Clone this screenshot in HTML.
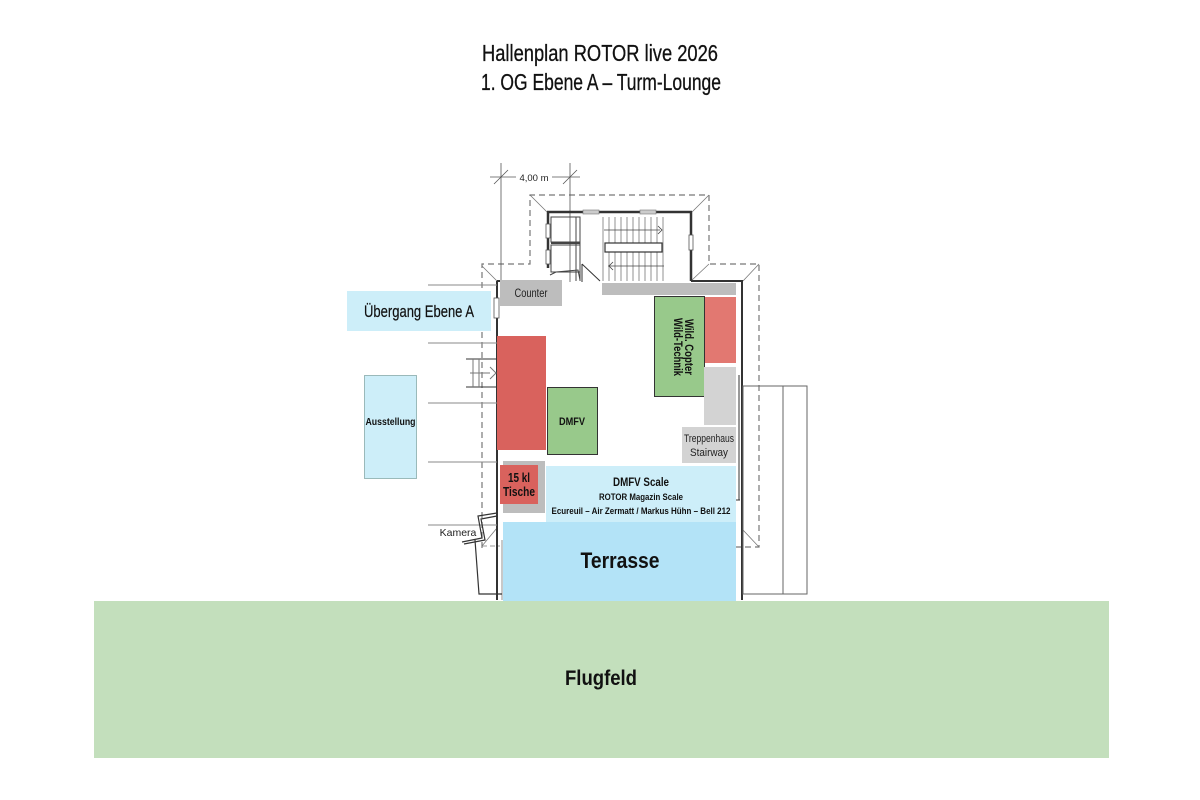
<!DOCTYPE html>
<html>
<head>
<meta charset="utf-8">
<style>
html,body{margin:0;padding:0;background:#fff;}
svg{display:block;}
text{font-family:"Liberation Sans",sans-serif;}
</style>
</head>
<body>
<svg width="1200" height="800" viewBox="0 0 1200 800" xmlns="http://www.w3.org/2000/svg">
<!-- Title -->
<text x="600" y="61" font-size="23" text-anchor="middle" textLength="236" lengthAdjust="spacingAndGlyphs" fill="#111" stroke="#111" stroke-width="0.3">Hallenplan ROTOR live 2026</text>
<text x="601" y="90" font-size="23" text-anchor="middle" textLength="240" lengthAdjust="spacingAndGlyphs" fill="#111" stroke="#111" stroke-width="0.3">1. OG Ebene A – Turm-Lounge</text>

<!-- Flugfeld -->
<rect x="94" y="601" width="1015" height="157" fill="#c3dfbc"/>
<text x="601" y="685" font-size="21" font-weight="bold" text-anchor="middle" textLength="72" lengthAdjust="spacingAndGlyphs" fill="#111">Flugfeld</text>

<!-- dashed outline -->
<g fill="none" stroke="#777" stroke-width="1.2" stroke-dasharray="6,4">
  <path d="M482,548 L482,264 L530,264 L530,195 L709,195 L709,264 L759,264 L759,547 L736,547"/>
</g>
<g stroke="#777" stroke-width="0.8" fill="none">
  <line x1="530" y1="195" x2="547" y2="212"/>
  <line x1="709" y1="195" x2="692" y2="212"/>
  <line x1="709" y1="264" x2="692" y2="280"/>
  <line x1="759" y1="264" x2="743" y2="281"/>
  <line x1="482" y1="266" x2="497" y2="281"/>
  <line x1="743" y1="530" x2="759" y2="547"/>
  <line x1="497" y1="528" x2="482" y2="546"/>
  <line x1="482" y1="546" x2="500" y2="546" stroke-dasharray="5,3"/>
</g>

<!-- dimension -->
<g stroke="#555" stroke-width="0.8">
  <line x1="501" y1="163" x2="501" y2="282"/>
  <line x1="570" y1="163" x2="570" y2="282"/>
  <line x1="490" y1="177" x2="516" y2="177"/>
  <line x1="552" y1="177" x2="580" y2="177"/>
  <line x1="494" y1="184" x2="508" y2="170"/>
  <line x1="563" y1="184" x2="577" y2="170"/>
</g>
<text x="534" y="181" font-size="9.5" text-anchor="middle" fill="#222">4,00 m</text>

<!-- tower walls -->
<g fill="none" stroke="#333" stroke-width="2.5">
  <line x1="547" y1="212" x2="583" y2="212"/>
  <line x1="599" y1="212" x2="640" y2="212"/>
  <line x1="656" y1="212" x2="692" y2="212"/>
  <line x1="548" y1="212" x2="548" y2="268"/>
  <line x1="691" y1="212" x2="691" y2="281"/>
</g>
<rect x="583" y="210" width="16" height="4" fill="#ccc" stroke="#777" stroke-width="0.6"/>
<rect x="640" y="210" width="16" height="4" fill="#ccc" stroke="#777" stroke-width="0.6"/>
<rect x="689" y="235" width="4" height="15" fill="#fff" stroke="#555" stroke-width="0.8"/>
<rect x="546" y="224" width="4" height="14" fill="#fff" stroke="#555" stroke-width="0.8"/>
<rect x="546" y="250" width="4" height="14" fill="#fff" stroke="#555" stroke-width="0.8"/>
<!-- tower small rooms -->
<g fill="none" stroke="#444" stroke-width="1">
  <rect x="551" y="217" width="29" height="25"/>
  <rect x="551" y="245" width="29" height="27"/>
  <line x1="551" y1="243" x2="580" y2="243" stroke-width="2"/>
  <path d="M550,275 L556,272 L578,270 L580,280"/>
  <line x1="576" y1="217" x2="576" y2="281"/>
  <line x1="580" y1="217" x2="580" y2="281"/>
</g>
<!-- door -->
<line x1="582" y1="264" x2="600" y2="281" stroke="#333" stroke-width="1"/>
<line x1="582" y1="264" x2="582" y2="282" stroke="#333" stroke-width="1"/>
<!-- stairs -->
<g stroke="#777" stroke-width="0.8">
  <line x1="603" y1="217" x2="603" y2="281"/>
  <line x1="609" y1="217" x2="609" y2="281"/>
  <line x1="615" y1="217" x2="615" y2="281"/>
  <line x1="621" y1="217" x2="621" y2="281"/>
  <line x1="627" y1="217" x2="627" y2="281"/>
  <line x1="633" y1="217" x2="633" y2="281"/>
  <line x1="639" y1="217" x2="639" y2="281"/>
  <line x1="645" y1="217" x2="645" y2="281"/>
  <line x1="651" y1="217" x2="651" y2="281"/>
  <line x1="657" y1="217" x2="657" y2="281"/>
  <line x1="663" y1="217" x2="663" y2="281"/>
  <line x1="604" y1="230" x2="660" y2="230" stroke="#444"/>
  <line x1="608" y1="266" x2="664" y2="266" stroke="#444"/>
</g>
<path d="M658,226 L662,230 L658,234" fill="none" stroke="#444" stroke-width="0.8"/>
<path d="M613,262 L609,266 L613,270" fill="none" stroke="#444" stroke-width="0.8"/>
<rect x="605" y="243" width="57" height="9" fill="#fff" stroke="#333" stroke-width="1.2"/>

<!-- main building walls -->
<g fill="none" stroke="#333" stroke-width="2">
  <line x1="497" y1="281" x2="497" y2="600"/>
  <line x1="497" y1="281" x2="548" y2="281"/>
  <line x1="691" y1="281" x2="743" y2="281"/>
  <line x1="742" y1="281" x2="742" y2="600"/>
</g>
<line x1="739" y1="375" x2="739" y2="500" stroke="#333" stroke-width="1"/>
<line x1="736" y1="500" x2="740" y2="500" stroke="#333" stroke-width="1"/>
<line x1="502" y1="540" x2="502" y2="600" stroke="#777" stroke-width="0.8"/>
<rect x="494" y="298" width="5" height="20" fill="#fff" stroke="#555" stroke-width="0.8"/>

<!-- right annex -->
<g fill="none" stroke="#666" stroke-width="1">
  <rect x="743" y="386" width="64" height="208"/>
  <line x1="783" y1="386" x2="783" y2="594"/>
</g>

<!-- left horizontal lines -->
<g stroke="#888" stroke-width="1">
  <line x1="428" y1="285" x2="497" y2="285"/>
  <line x1="428" y1="343" x2="497" y2="343"/>
  <line x1="428" y1="403" x2="497" y2="403"/>
  <line x1="428" y1="462" x2="497" y2="462"/>
  <line x1="428" y1="525" x2="497" y2="525"/>
</g>
<!-- left stair -->
<g stroke="#333" stroke-width="1" fill="none">
  <line x1="466" y1="359" x2="497" y2="359"/>
  <line x1="466" y1="387" x2="497" y2="387"/>
  <line x1="473" y1="359" x2="473" y2="387" stroke="#777"/>
  <line x1="479" y1="359" x2="479" y2="387" stroke="#777"/>
  <line x1="470" y1="373" x2="490" y2="373" stroke="#777"/>
  <path d="M490,367 L496,373 L490,379" stroke="#777"/>
</g>
<!-- Kamera walls -->
<g stroke="#333" stroke-width="1.2" fill="none">
  <path d="M497,513 L478,516 L482,538 L462,542"/>
  <path d="M497,516 L481,519 L485,540 L464,544"/>
  <path d="M475,540 L479,594 L502,594"/>
</g>
<text x="458" y="536" font-size="10.5" text-anchor="middle" fill="#222">Kamera</text>

<!-- Übergang -->
<rect x="347" y="291" width="144" height="40" fill="#cdeef9"/>
<text x="419" y="317" font-size="17" text-anchor="middle" textLength="110" lengthAdjust="spacingAndGlyphs" fill="#111" stroke="#111" stroke-width="0.2">Übergang Ebene A</text>
<!-- Ausstellung -->
<rect x="364.5" y="375.5" width="52" height="103" fill="#cdeef9" stroke="#8aa" stroke-width="0.8"/>
<text x="390.5" y="425" font-size="10" font-weight="bold" text-anchor="middle" textLength="50" lengthAdjust="spacingAndGlyphs" fill="#111">Ausstellung</text>

<!-- Counter -->
<rect x="500" y="280" width="62" height="26" fill="#bdbdbd"/>
<text x="531" y="297" font-size="11.5" text-anchor="middle" textLength="33" lengthAdjust="spacingAndGlyphs" fill="#222">Counter</text>
<!-- top gray bar -->
<rect x="602" y="283" width="134" height="12" fill="#bdbdbd"/>

<!-- Wild box -->
<rect x="654.5" y="296.5" width="50" height="100" fill="#98c98b" stroke="#333" stroke-width="1"/>
<g transform="translate(679,347) rotate(90)">
  <text x="0" y="-6" font-size="11.5" font-weight="bold" text-anchor="middle" textLength="56" lengthAdjust="spacingAndGlyphs" fill="#111">Wild. Copter</text>
  <text x="0" y="5" font-size="11.5" font-weight="bold" text-anchor="middle" textLength="58" lengthAdjust="spacingAndGlyphs" fill="#111">Wild-Technik</text>
</g>
<rect x="705" y="297" width="31" height="66" fill="#e27871"/>
<rect x="704" y="367" width="32" height="58" fill="#d3d3d3"/>
<rect x="682" y="427" width="54" height="36" fill="#d3d3d3"/>
<text x="709" y="442" font-size="11" text-anchor="middle" textLength="50" lengthAdjust="spacingAndGlyphs" fill="#222">Treppenhaus</text>
<text x="709" y="456" font-size="11" text-anchor="middle" textLength="38" lengthAdjust="spacingAndGlyphs" fill="#222">Stairway</text>

<!-- red big -->
<rect x="497" y="336" width="49" height="114" fill="#d9625d"/>
<!-- DMFV green -->
<rect x="547.5" y="387.5" width="50" height="67" fill="#98c98b" stroke="#333" stroke-width="1"/>
<text x="572" y="425" font-size="11" font-weight="bold" text-anchor="middle" textLength="26" lengthAdjust="spacingAndGlyphs" fill="#111">DMFV</text>

<!-- 15 kl Tische -->
<rect x="503" y="461" width="42" height="52" fill="#bdbdbd"/>
<rect x="500" y="465" width="38" height="39" fill="#d9625d"/>
<text x="519" y="482" font-size="13" font-weight="bold" text-anchor="middle" textLength="22" lengthAdjust="spacingAndGlyphs" fill="#111">15 kl</text>
<text x="519" y="496" font-size="13" font-weight="bold" text-anchor="middle" textLength="32" lengthAdjust="spacingAndGlyphs" fill="#111">Tische</text>

<!-- DMFV Scale -->
<rect x="546" y="466" width="190" height="56" fill="#cdeef9"/>
<text x="641" y="486" font-size="12" font-weight="bold" text-anchor="middle" textLength="56" lengthAdjust="spacingAndGlyphs" fill="#111">DMFV Scale</text>
<text x="641" y="500" font-size="9.5" font-weight="bold" text-anchor="middle" textLength="84" lengthAdjust="spacingAndGlyphs" fill="#111">ROTOR Magazin Scale</text>
<text x="641" y="514" font-size="9.5" font-weight="bold" text-anchor="middle" textLength="179" lengthAdjust="spacingAndGlyphs" fill="#111">Ecureuil – Air Zermatt / Markus Hühn – Bell 212</text>

<!-- Terrasse -->
<rect x="503" y="522" width="233" height="79" fill="#b3e3f7"/>
<text x="620" y="568" font-size="22" font-weight="bold" text-anchor="middle" textLength="79" lengthAdjust="spacingAndGlyphs" fill="#111">Terrasse</text>
</svg>
</body>
</html>
